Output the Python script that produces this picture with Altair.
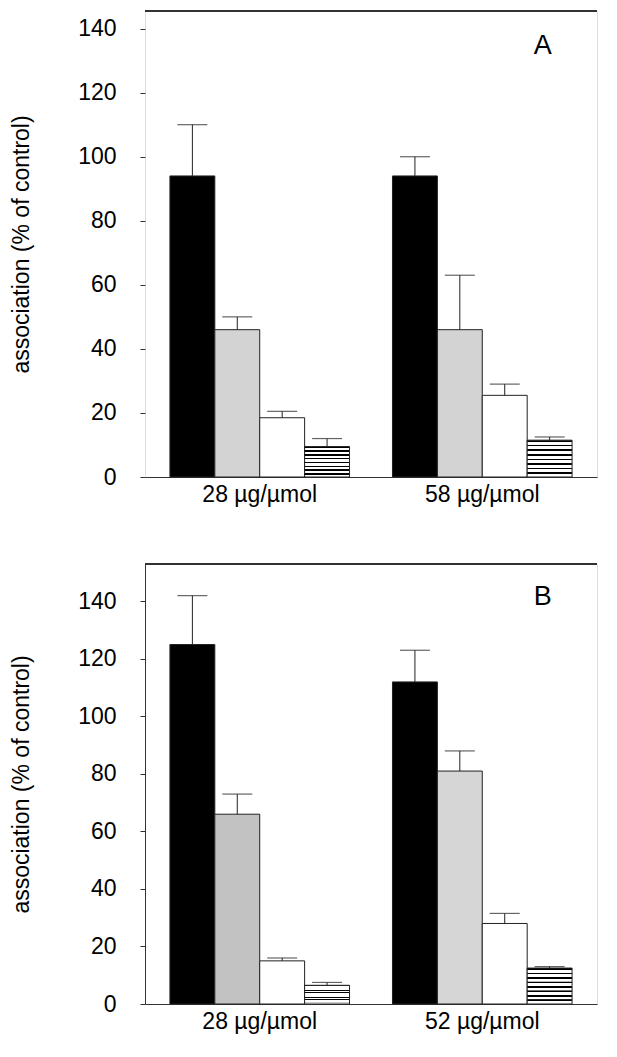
import pandas as pd
import altair as alt

series = ["s1", "s2", "s3", "s4"]

groups_a = ["28 µg/µmol", "58 µg/µmol"]
values_a = [[94, 46, 18.5, 9.5], [94, 46, 25.5, 11.5]]
errtop_a = [[110, 50, 20.5, 12], [100, 63, 29, 12.5]]

groups_b = ["28 µg/µmol", "52 µg/µmol"]
values_b = [[125, 66, 15, 6.5], [112, 81, 28, 12.5]]
errtop_b = [[142, 73, 16, 7.5], [123, 88, 31.5, 13]]
greys_b = ["#c2c2c2", "#d6d6d6"]

FONT = "Liberation Sans"


def make_df(groups, values, errtop, greys):
    rows = []
    for gi, g in enumerate(groups):
        for si, s in enumerate(series):
            fill = ["#000000", greys[gi], "#ffffff", "#ffffff"][si]
            rows.append({"group": g, "series": s, "value": values[gi][si],
                         "err": errtop[gi][si], "fill": fill})
    return pd.DataFrame(rows)


stripes = []
n = 8
for i in range(n):
    stripes.append({"offset": i / n, "color": "#000000"})
    stripes.append({"offset": i / n + 0.35 / n, "color": "#000000"})
    stripes.append({"offset": i / n + 0.36 / n, "color": "#ffffff"})
    stripes.append({"offset": (i + 1) / n - 0.01 / n, "color": "#ffffff"})
stripe_fill = {"gradient": "linear", "x1": 0, "y1": 0, "x2": 0, "y2": 1, "stops": stripes}

W = 452


def panel(groups, values, errtop, greys, ymax, height, letter, ydomain_line):
    df = make_df(groups, values, errtop, greys)
    x = alt.X("group:N", sort=groups,
              scale=alt.Scale(paddingInner=0.193, paddingOuter=0.112),
              axis=alt.Axis(title=None, labelFontSize=23, labelColor="black", labelFont=FONT,
                            labelAngle=0, ticks=False, domainColor="#333", labelPadding=6))
    y = alt.Y("value:Q", scale=alt.Scale(domain=[0, ymax], nice=False),
              axis=alt.Axis(title="association (% of control)", values=[0, 20, 40, 60, 80, 100, 120, 140],
                            titleFontSize=23, titleFont=FONT, titleFontWeight="normal", titleColor="black",
                            labelFontSize=23, labelFont=FONT, labelColor="black", grid=False,
                            domain=ydomain_line, domainColor="#333", tickColor="#333", tickSize=5,
                            labelPadding=24, titlePadding=44))
    xo = alt.XOffset("series:N", sort=series, scale=alt.Scale(paddingInner=0, paddingOuter=0))
    base = alt.Chart(df)
    bars = base.transform_filter(alt.datum.series != "s4").mark_bar(stroke="#222", strokeWidth=1).encode(
        x=x, xOffset=xo, y=y, fill=alt.Fill("fill:N", scale=None))
    sbars = base.transform_filter(alt.datum.series == "s4").mark_bar(
        fill=stripe_fill, stroke="#222", strokeWidth=1).encode(x=x, xOffset=xo, y=y)
    stem = base.mark_rule(color="#222", strokeWidth=1).encode(
        x=x, xOffset=xo, y="value:Q", y2="err:Q")
    cap = base.mark_tick(color="#222", thickness=1.2, size=30).encode(
        x=x, xOffset=xo, y="err:Q")
    top = alt.Chart(df).mark_rule(color="#333", strokeWidth=1).encode(
        x=alt.value(0), x2=alt.value(W), y=alt.value(0))
    lab = alt.Chart(pd.DataFrame({"t": [letter]})).mark_text(
        fontSize=27, font=FONT, color="black", align="center").encode(
        text="t:N", x=alt.value(W * 0.88), y=alt.value(height * 0.075))
    return alt.layer(bars, sbars, stem, cap, top, lab).properties(width=W, height=height)


pa = panel(groups_a, values_a, errtop_a, ["#d3d3d3", "#d3d3d3"], 145.5, 466, "A", False)
pb = panel(groups_b, values_b, errtop_b, greys_b, 153, 440, "B", True)

chart = alt.vconcat(pa, pb, spacing=56).configure_view(stroke=None).configure(
    background="white", padding=2)
chart.save("out.html", embed_options={"renderer": "svg", "actions": False})
